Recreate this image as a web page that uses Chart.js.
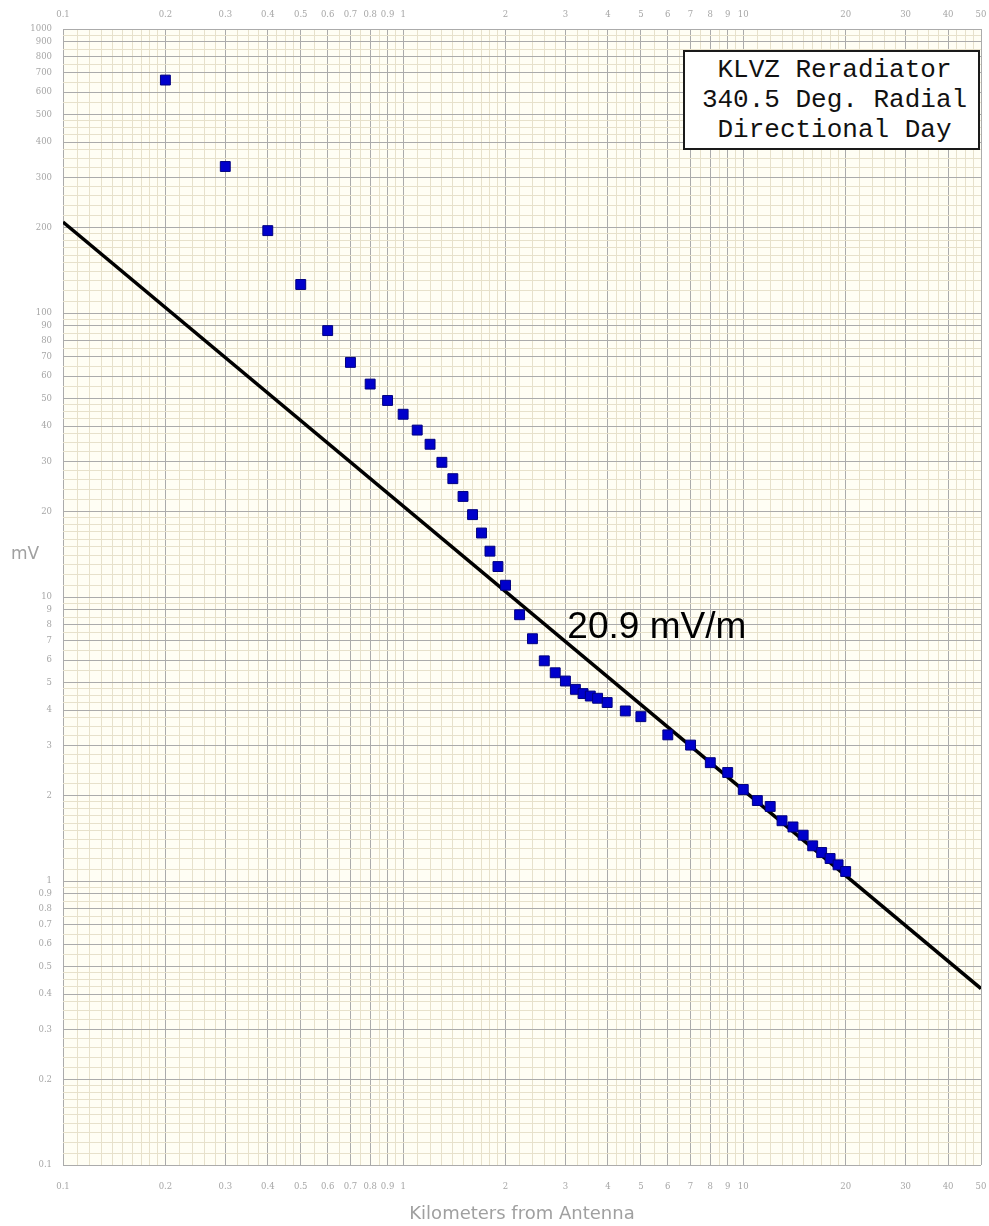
<!DOCTYPE html>
<html><head><meta charset="utf-8">
<script src="https://cdn.jsdelivr.net/npm/chart.js@4/dist/chart.umd.min.js"></script>
<style>
html,body{margin:0;padding:0;background:#fff;}
#wrap{position:relative;width:989px;height:1226px;background:#fff;}
canvas{display:block;}
#box{position:absolute;left:683px;top:50px;width:287px;height:96px;border:2px solid #1a1a1a;background:#fff;
 font-family:'Liberation Mono','Courier New',monospace;font-size:26px;line-height:30px;text-align:center;color:#111;
 display:flex;flex-direction:column;justify-content:center;padding-left:6px;}
#mv{position:absolute;left:11px;top:543px;font:17px 'DejaVu Sans',sans-serif;color:#a0a0a0;}
</style></head>
<body><div id="wrap"><canvas id="c" width="989" height="1226"></canvas>
<div id="mv">mV</div>
<div id="box"><div>KLVZ Reradiator</div><div>340.5 Deg. Radial</div><div>Directional Day</div></div></div>
<script>
// Measured field strength (mV/m) vs distance (km)
const distKm = [0.2,0.3,0.4,0.5,0.6,0.7,0.8,0.9,1.0,
  1.1,1.2,1.3,1.4,1.5,1.6,1.7,1.8,1.9,2.0,
  2.2,2.4,2.6,2.8,3.0,
  3.21,3.38,3.55,3.73,3.98,
  4.5,5.0,6.0,7.0,8.0,9.0,10,
  11,12,13,14,15,16,17,18,19,20];
const fieldMv = [661,328,195,126,86.7,67,56.2,49.2,44.0,
  38.7,34.5,29.8,26.1,22.6,19.5,16.8,14.5,12.8,11.0,
  8.66,7.13,5.96,5.41,5.06,
  4.73,4.57,4.48,4.40,4.25,
  3.97,3.79,3.27,3.01,2.61,2.41,2.10,
  1.92,1.83,1.63,1.55,1.45,1.33,1.26,1.20,1.14,1.08];
// Inverse-distance reference line (20.9 mV/m)
const refKm = [0.1, 50];
const refMv = [209, 0.418];
// Tick labels
const xLabels = [0.1,0.2,0.3,0.4,0.5,0.6,0.7,0.8,0.9,1,2,3,4,5,6,7,8,9,10,20,30,40,50];
const yLabels = [0.1,0.2,0.3,0.4,0.5,0.6,0.7,0.8,0.9,1,2,3,4,5,6,7,8,9,
  10,20,30,40,50,60,70,80,90,100,200,300,400,500,600,700,800,900,1000];

function gridTicks(min,max){
  const segs=[[1,2,0.1],[2,3,0.2],[3,5,0.25],[5,10,0.5]];
  const out=[];
  for(let e=-1;e<=3;e++){
    const p=Math.pow(10,e);
    for(const [a,b,s] of segs){
      const n=Math.round((b-a)/s);
      for(let i=0;i<n;i++){
        const v=+((a+i*s)*p).toPrecision(6);
        if(v>=min*0.9999 && v<=max*1.0001) out.push(v);
      }
    }
  }
  return out;
}
function isLabel(list,v){ return list.some(l=>Math.abs(l-v)/l<1e-6); }
function fmt(v){ return v<1 ? v.toFixed(1) : String(Math.round(v)); }

const MAJOR='#ababab', MINOR='#e7e1cb';
const tickFont={family:'DejaVu Serif', size:8.5};
const tickColor='#a6a6a6';

const bgPlugin={id:'bg',beforeDraw(chart){const {ctx,chartArea:a}=chart;ctx.save();ctx.fillStyle='#fffef4';ctx.fillRect(a.left,a.top,a.right-a.left,a.bottom-a.top);ctx.restore();}};
const labelPlugin={id:'lbl',afterDatasetsDraw(chart){const {ctx,scales:{x,y}}=chart;ctx.save();ctx.font='37px "Liberation Sans", Arial, sans-serif';ctx.fillStyle='#000';ctx.textAlign='left';ctx.textBaseline='middle';ctx.fillText('20.9 mV/m',x.getPixelForValue(3.04),y.getPixelForValue(7.8));ctx.restore();}};

function fitX(h){ return s=>{ s.height=h; s.paddingLeft=0; s.paddingRight=0; }; }

new Chart(document.getElementById('c'),{
  type:'scatter',
  data:{datasets:[
    {type:'scatter',data:distKm.map((x,i)=>({x,y:fieldMv[i]})),xAxisID:'x',yAxisID:'y',
     pointStyle:'rect',pointRadius:7,backgroundColor:'#0000cc',borderColor:'#000080',borderWidth:1},
    {type:'line',data:refKm.map((x,i)=>({x,y:refMv[i]})),xAxisID:'x',yAxisID:'y',
     borderColor:'#000',borderWidth:3.5,pointRadius:0,fill:false,tension:0}
  ]},
  options:{
    responsive:false,animation:false,devicePixelRatio:1,
    layout:{padding:{left:0,right:8,top:0,bottom:0}},
    plugins:{legend:{display:false},tooltip:{enabled:false}},
    scales:{
      x:{type:'logarithmic',position:'bottom',min:0.1,max:50,
        afterBuildTicks:s=>{s.ticks=gridTicks(0.1,50).map(v=>({value:v}));},
        afterFit:fitX(61),
        grid:{color:c=>isLabel(xLabels,c.tick.value)?MAJOR:MINOR,lineWidth:1,drawTicks:false},
        border:{display:false},
        ticks:{autoSkip:false,maxRotation:0,minRotation:0,padding:17,color:tickColor,font:tickFont,
          callback:v=>isLabel(xLabels,v)?fmt(v):''},
        title:{display:true,text:'Kilometers from Antenna',color:'#a0a0a0',font:{family:'DejaVu Sans',size:18},padding:{top:0,bottom:1}}
      },
      x2:{type:'logarithmic',position:'top',min:0.1,max:50,
        afterBuildTicks:s=>{s.ticks=gridTicks(0.1,50).map(v=>({value:v}));},
        afterFit:fitX(29),
        grid:{display:false,drawTicks:false},
        border:{display:false},
        ticks:{autoSkip:false,maxRotation:0,minRotation:0,padding:9,color:tickColor,font:tickFont,
          callback:v=>isLabel(xLabels,v)?fmt(v):''}
      },
      y:{type:'logarithmic',position:'left',min:0.1,max:1000,
        afterBuildTicks:s=>{s.ticks=gridTicks(0.1,1000).map(v=>({value:v}));},
        afterFit:s=>{s.width=63; s.paddingTop=0; s.paddingBottom=0;},
        grid:{color:c=>isLabel(yLabels,c.tick.value)?MAJOR:MINOR,lineWidth:1,drawTicks:false},
        border:{display:false},
        ticks:{autoSkip:false,padding:11,color:tickColor,font:tickFont,
          callback:v=>isLabel(yLabels,v)?fmt(v):''}
      }
    }
  },
  plugins:[bgPlugin,labelPlugin]
});
</script>
</body></html>
